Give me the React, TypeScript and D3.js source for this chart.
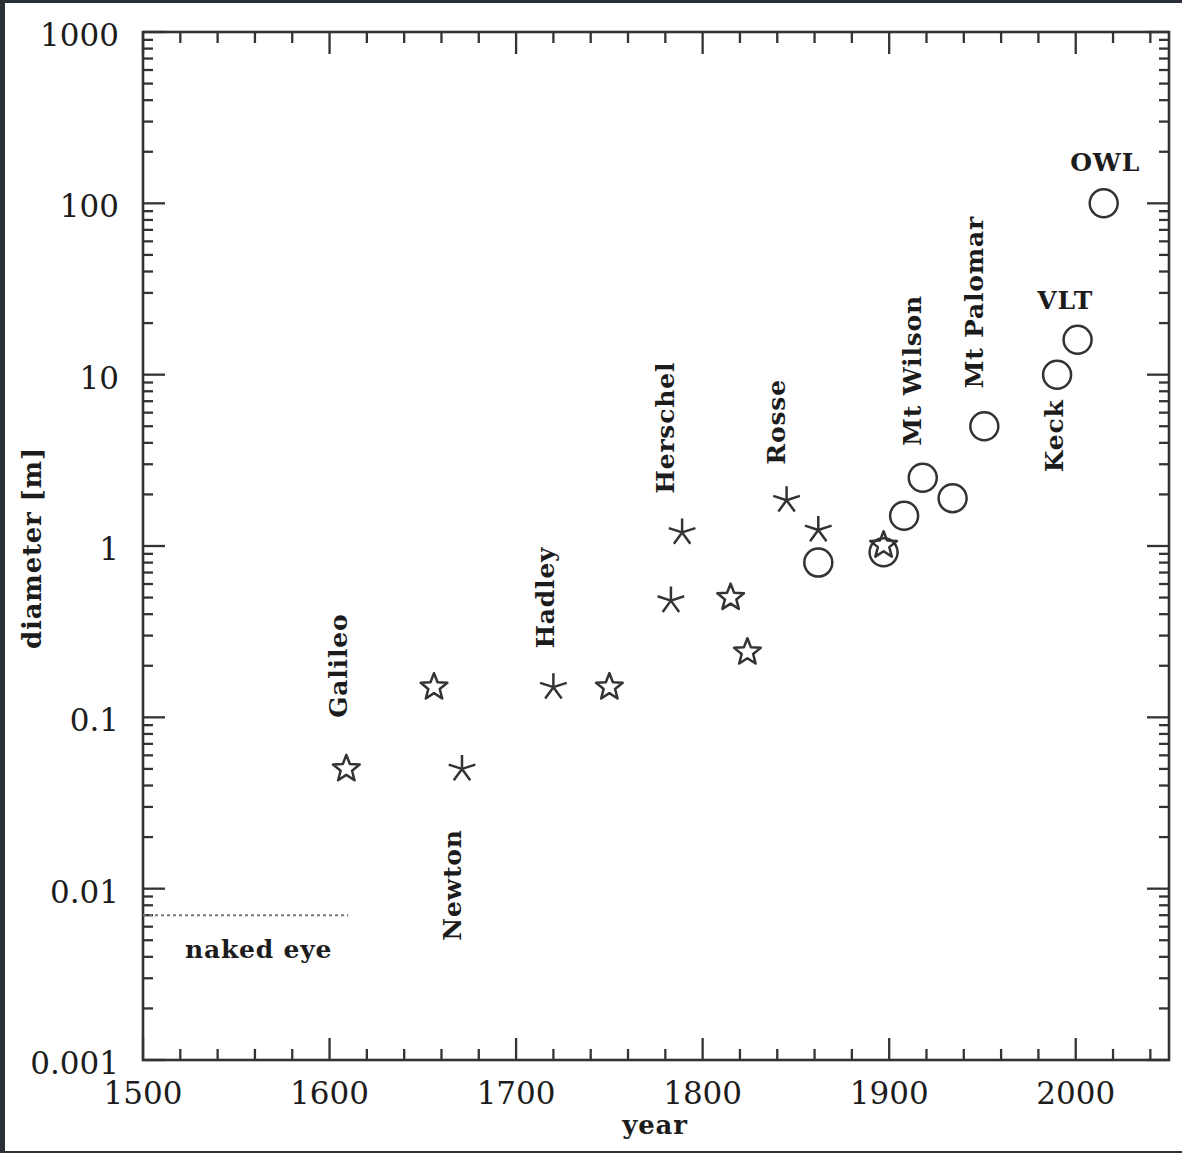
import React from "react";
import * as d3 from "d3";

// ---- data ----
const refractorYears = [1609, 1656, 1750, 1815, 1824, 1897];
const refractorDiam = [0.05, 0.15, 0.15, 0.5, 0.24, 1.01];

const reflectorYears = [1671, 1720, 1783, 1789, 1845, 1862];
const reflectorDiam = [0.05, 0.15, 0.48, 1.2, 1.85, 1.24];

const modernYears = [1862, 1897, 1908, 1918, 1934, 1951, 1990, 2001, 2015];
const modernDiam = [0.8, 0.92, 1.5, 2.5, 1.9, 5.0, 10, 16, 100];

const labelNames = ["Galileo", "Newton", "Hadley", "Herschel", "Rosse", "Mt Wilson", "Mt Palomar", "Keck", "VLT", "OWL", "naked eye"];
const labelYears = [1604.6, 1665.7, 1715.6, 1780, 1839.4, 1912.3, 1946, 1988.5, 1994.4, 2015.8, 1562];
const labelDiam = [0.2, 0.0105, 0.5, 4.9, 5.3, 10.6, 26.5, 4.4, 27, 172, 0.0044];
const labelRotated = [true, true, true, true, true, true, true, true, false, false, false];

const nakedEyeDiam = 0.007;
const nakedEyeYears = [1500, 1610];

const xTickLabels = [1500, 1600, 1700, 1800, 1900, 2000];
const yTickLabels = ["0.001", "0.01", "0.1", "1", "10", "100", "1000"];

// ---- layout ----
const W = 1182, H = 1153;
const L = 143, R = 1169, T = 32, B = 1060;

const x = d3.scaleLinear().domain([1500, 2050]).range([L, R]);
const y = d3.scaleLog().domain([0.001, 1000]).range([B, T]);

const ink = "#333";
const textInk = "#1c1c1c";

function starPath(r1: number, r2: number) {
  const pts: [number, number][] = [];
  for (let i = 0; i < 10; i++) {
    const a = -Math.PI / 2 + (i * Math.PI) / 5;
    const r = i % 2 === 0 ? r1 : r2;
    pts.push([r * Math.cos(a), r * Math.sin(a)]);
  }
  return d3.line()(pts)! + "Z";
}
function asteriskPath(r: number) {
  let p = "";
  for (let i = 0; i < 5; i++) {
    const a = -Math.PI / 2 + (i * 2 * Math.PI) / 5;
    p += `M0,0L${(r * Math.cos(a)).toFixed(2)},${(r * Math.sin(a)).toFixed(2)}`;
  }
  return p;
}

export default function App() {
  const xMajor = d3.range(1500, 2051, 100);
  const xMinor = d3.range(1500, 2051, 20).filter((v) => v % 100 !== 0);
  const yMajor = d3.range(-3, 4).map((e) => Math.pow(10, e));
  const yMinor: number[] = [];
  for (let e = -3; e < 3; e++) for (let k = 2; k <= 9; k++) yMinor.push(k * Math.pow(10, e));

  const star = starPath(14, 6);
  const ast = asteriskPath(14);
  const font = "'DejaVu Serif', serif";

  return (
    <svg width={W} height={H} style={{ position: "absolute", left: 0, top: 0, background: "#fff" }}>
      <rect x={0} y={0} width={W} height={H} fill="#fff" />
      {/* dark frame edges */}
      <rect x={0} y={0} width={W} height={3} fill="#2b2f36" />
      <rect x={0} y={0} width={5} height={H} fill="#2b2f36" />
      <rect x={0} y={H - 2} width={W} height={2} fill="#2b2f36" />

      {/* ticks */}
      <g stroke={ink} strokeWidth={2.3}>
        {xMajor.map((v) => (
          <g key={"xM" + v}>
            <line x1={x(v)} x2={x(v)} y1={B} y2={B - 22} />
            <line x1={x(v)} x2={x(v)} y1={T} y2={T + 22} />
          </g>
        ))}
        {xMinor.map((v) => (
          <g key={"xm" + v}>
            <line x1={x(v)} x2={x(v)} y1={B} y2={B - 11} />
            <line x1={x(v)} x2={x(v)} y1={T} y2={T + 11} />
          </g>
        ))}
        {yMajor.map((v) => (
          <g key={"yM" + v}>
            <line x1={L} x2={L + 22} y1={y(v)} y2={y(v)} />
            <line x1={R} x2={R - 22} y1={y(v)} y2={y(v)} />
          </g>
        ))}
        {yMinor.map((v) => (
          <g key={"ym" + v}>
            <line x1={L} x2={L + 10} y1={y(v)} y2={y(v)} />
            <line x1={R} x2={R - 10} y1={y(v)} y2={y(v)} />
          </g>
        ))}
      </g>
      <rect x={L} y={T} width={R - L} height={B - T} fill="none" stroke={ink} strokeWidth={2.6} />

      {/* tick labels */}
      <g fill={textInk} fontFamily={font} fontSize={31}>
        {yTickLabels.map((s) => (
          <text key={s} x={119} y={y(+s) + 3} textAnchor="end" dominantBaseline="central">{s}</text>
        ))}
        {xTickLabels.map((v) => (
          <text key={v} x={x(v)} y={1093} textAnchor="middle" dominantBaseline="central">{v}</text>
        ))}
      </g>

      {/* axis titles */}
      <g fill={textInk} fontFamily={font} fontWeight="bold" fontSize={26} letterSpacing={0.8}>
        <text x={655} y={1125} textAnchor="middle" dominantBaseline="central">year</text>
        <text transform={`translate(32,548) rotate(-90)`} textAnchor="middle" dominantBaseline="central">diameter [m]</text>
      </g>

      {/* naked eye line */}
      <line x1={x(nakedEyeYears[0])} x2={x(nakedEyeYears[1])} y1={y(nakedEyeDiam)} y2={y(nakedEyeDiam)}
        stroke="#777" strokeWidth={2} strokeDasharray="3,3" />

      {/* markers */}
      <g fill="none" stroke={ink} strokeWidth={2.5} strokeLinejoin="round">
        {modernYears.map((v, i) => (
          <circle key={"c" + i} cx={x(v)} cy={y(modernDiam[i])} r={14} />
        ))}
        {refractorYears.map((v, i) => (
          <path key={"s" + i} d={star} transform={`translate(${x(v)},${y(refractorDiam[i])})`} />
        ))}
        {reflectorYears.map((v, i) => (
          <path key={"a" + i} d={ast} transform={`translate(${x(v)},${y(reflectorDiam[i])})`} />
        ))}
      </g>

      {/* labels */}
      <g fill={textInk} fontFamily={font} fontWeight="bold" fontSize={25} letterSpacing={0.8}>
        {labelNames.map((n, i) =>
          labelRotated[i] ? (
            <text key={n} transform={`translate(${x(labelYears[i])},${y(labelDiam[i])}) rotate(-90)`}
              textAnchor="middle" dominantBaseline="central">{n}</text>
          ) : (
            <text key={n} x={x(labelYears[i])} y={y(labelDiam[i])} textAnchor="middle" dominantBaseline="central">{n}</text>
          )
        )}
      </g>
    </svg>
  );
}
